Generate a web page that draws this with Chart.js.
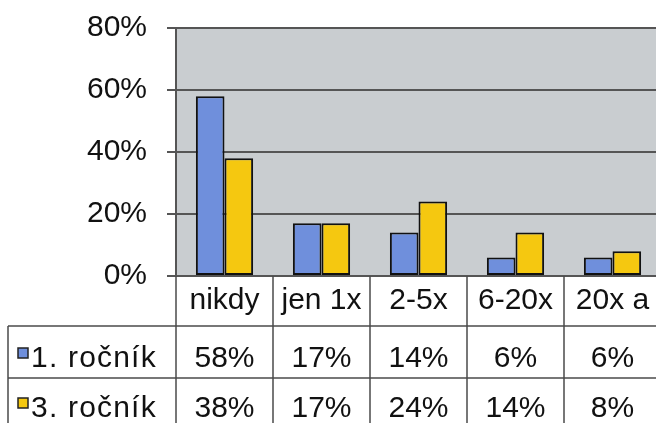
<!DOCTYPE html>
<html>
<head>
<meta charset="utf-8">
<script src="https://cdn.jsdelivr.net/npm/chart.js@4/dist/chart.umd.min.js"></script>
<style>
  html, body { margin: 0; padding: 0; background: #fff; overflow: hidden; }
  #wrap { width: 662px; height: 423px; }
</style>
</head>
<body>
<div id="wrap"><canvas id="result-chart" width="662" height="423"></canvas></div>
<script>
const categories = ["nikdy", "jen 1x", "2-5x", "6-20x", "20x a"];
const series_names = ["1. ročník", "3. ročník"];
const rocnik_1 = [58, 17, 14, 6, 6];
const rocnik_3 = [38, 17, 24, 14, 8];
const series_colors = ["#6f8fdc", "#f5c810"];

const FONT = "Liberation Sans, Arial, sans-serif";
const LINE = "#4a4a4a";

// grey plot area behind the bars
const plot_background = {
  id: "plot_background",
  beforeDraw: (chart) => {
    const { ctx, chartArea } = chart;
    ctx.save();
    ctx.fillStyle = "#c9cdd0";
    ctx.fillRect(chartArea.left, chartArea.top,
      chartArea.right - chartArea.left, chartArea.bottom - chartArea.top);
    ctx.restore();
  },
};

// data table under the x axis, columns follow the category scale
const data_table = {
  id: "data_table",
  afterDraw: (chart) => {
    const { ctx, chartArea } = chart;
    const x = chart.scales.x;
    const step = (chartArea.right - chartArea.left) / categories.length;
    const top = chartArea.bottom;
    const header_bottom = top + 50;
    const row_bottom = header_bottom + 52;
    const table_left = 8;
    const bottom = chart.height;

    ctx.save();
    ctx.strokeStyle = LINE;
    ctx.lineWidth = 1.5;

    // column dividers
    for (let i = 0; i <= categories.length; i++) {
      const cx = chartArea.left + i * step;
      ctx.beginPath();
      ctx.moveTo(cx, top);
      ctx.lineTo(cx, bottom);
      ctx.stroke();
    }
    // row lines and left edge
    [header_bottom, row_bottom].forEach((y) => {
      ctx.beginPath();
      ctx.moveTo(table_left, y);
      ctx.lineTo(chartArea.right, y);
      ctx.stroke();
    });
    ctx.beginPath();
    ctx.moveTo(table_left, header_bottom);
    ctx.lineTo(table_left, bottom);
    ctx.stroke();

    ctx.fillStyle = "#111";
    ctx.font = `30px ${FONT}`;
    ctx.textAlign = "center";
    ctx.textBaseline = "alphabetic";

    categories.forEach((c, i) => {
      ctx.fillText(c, x.getPixelForValue(i), top + 33);
    });

    const rows = [rocnik_1, rocnik_3];
    rows.forEach((values, r) => {
      const base = header_bottom + 41 + r * 50;
      values.forEach((v, i) => {
        ctx.fillText(`${v}%`, x.getPixelForValue(i), base);
      });
      // legend key and series name
      const ky = base - 19;
      ctx.fillStyle = series_colors[r];
      ctx.fillRect(18, ky, 10, 10);
      ctx.strokeStyle = "#222";
      ctx.lineWidth = 1.5;
      ctx.strokeRect(18, ky, 10, 10);
      ctx.fillStyle = "#111";
      ctx.textAlign = "left";
      ctx.letterSpacing = "1.2px";
      ctx.fillText(series_names[r], 31, base);
      ctx.letterSpacing = "0px";
      ctx.textAlign = "center";
    });
    ctx.restore();
  },
};

const get_datasets = () => {
  return [rocnik_1, rocnik_3].map((values, i) => ({
    label: series_names[i],
    data: values,
    backgroundColor: series_colors[i],
    borderColor: "#111",
    borderWidth: 2,
    borderSkipped: false,
    categoryPercentage: 0.59,
    barPercentage: 1.0,
  }));
};

const config = {
  type: "bar",
  data: { labels: categories, datasets: get_datasets() },
  plugins: [plot_background, data_table],
  options: {
    responsive: false,
    animation: false,
    events: [],
    layout: { padding: { top: 28, bottom: 147, left: 0, right: 1 } },
    plugins: { legend: { display: false }, tooltip: { enabled: false } },
    scales: {
      x: { display: false },
      y: {
        min: 0,
        max: 80,
        ticks: {
          stepSize: 20,
          padding: 20,
          color: "#111",
          font: { family: FONT, size: 30 },
          callback: (v) => `${v}%`,
        },
        grid: { color: "#555", lineWidth: 2, tickLength: 9, tickColor: "#555" },
        border: { color: "#555", width: 2 },
        afterFit: (scale) => {
          scale.width = 176;
          scale.paddingTop = 0;
          scale.paddingBottom = 0;
        },
      },
    },
  },
};

new Chart(document.getElementById("result-chart"), config);
</script>
</body>
</html>
